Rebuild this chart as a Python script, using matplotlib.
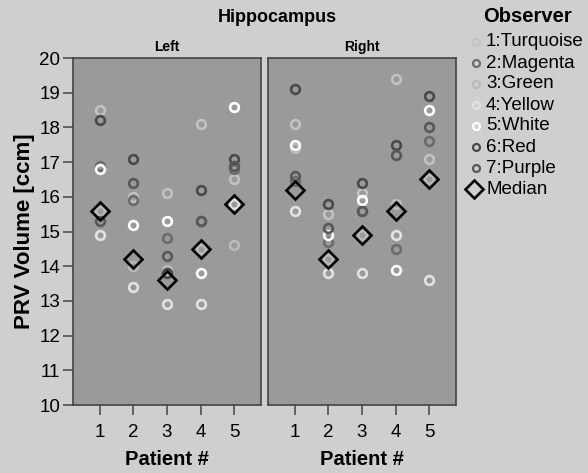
import matplotlib
matplotlib.use("Agg")
import matplotlib.pyplot as plt
from matplotlib.lines import Line2D

plt.rcParams['font.family'] = ['Liberation Sans', 'DejaVu Sans']

patients = [1, 2, 3, 4, 5]
observers = ["1:Turquoise", "2:Magenta", "3:Green", "4:Yellow", "5:White", "6:Red", "7:Purple"]
obs_colors = ["#c2c2c2", "#6c6c6c", "#bababa", "#e2e2e2", "#ffffff", "#4a4a4a", "#585858"]

left_values = [
    [18.5, 16.0, 16.1, 18.1, 16.5],
    [16.9, 15.9, 14.8, 15.3, 16.8],
    [15.6, 14.0, 13.9, 14.5, 14.6],
    [14.9, 13.4, 12.9, 12.9, 15.8],
    [16.8, 15.2, 15.3, 13.8, 18.6],
    [18.2, 17.1, 13.8, 16.2, 17.1],
    [15.3, 16.4, 14.3, 15.3, 16.9],
]
right_values = [
    [18.1, 15.5, 16.1, 19.4, 17.1],
    [16.45, 14.7, 15.6, 14.5, 17.6],
    [17.4, 14.2, 14.9, 15.8, 16.5],
    [15.6, 13.8, 13.8, 14.9, 13.6],
    [17.5, 14.9, 15.9, 13.9, 18.5],
    [19.1, 15.8, 16.4, 17.5, 18.9],
    [16.6, 15.1, 15.6, 17.2, 18.0],
]
left_median = [15.6, 14.2, 13.6, 14.5, 15.8]
right_median = [16.2, 14.2, 14.9, 15.6, 16.5]

facets = ["Left", "Right"]
yticks = list(range(10, 21))

W, H = 588, 473
fig = plt.figure(figsize=(W / 100, H / 100), dpi=100, facecolor="#cfcfcf")

panel_x = [(73, 261), (268, 456)]
y_top, y_bot = 58, 405
axes = []
for (x0, x1) in panel_x:
    ax = fig.add_axes([x0 / W, 1 - y_bot / H, (x1 - x0) / W, (y_bot - y_top) / H])
    axes.append(ax)

spine_col = "#444444"
for i, (ax, vals, med, name) in enumerate(zip(axes, [left_values, right_values],
                                               [left_median, right_median], facets)):
    ax.set_facecolor("#9a9a9a")
    for obs, col, v in zip(observers, obs_colors, vals):
        ax.plot(patients, v, linestyle="none", marker="o", markersize=6.3,
                markerfacecolor="none", markeredgecolor=col, markeredgewidth=1.9)
    ax.plot(patients, med, linestyle="none", marker="D", markersize=9.5,
            markerfacecolor="none", markeredgecolor="black", markeredgewidth=1.9)
    ax.set_xlim(0.2, 5.8)
    ax.set_ylim(10, 20)
    ax.set_xticks(patients)
    ax.set_xticklabels([str(p) for p in patients], fontsize=13.5)
    ax.set_yticks(yticks)
    if i == 0:
        ax.set_yticklabels([str(t) for t in yticks], fontsize=13.5)
        ax.tick_params(axis="y", direction="out", length=7, width=1.1, color=spine_col, pad=2)
    else:
        ax.tick_params(axis="y", left=False, labelleft=False)
    ax.tick_params(axis="x", direction="out", length=7.5, width=1.1, color=spine_col, pad=6)
    for s in ax.spines.values():
        s.set_color(spine_col)
        s.set_linewidth(1.2)
    ax.set_title(name, fontsize=10, fontweight="bold", pad=5)
    ax.set_xlabel("Patient #", fontsize=14.5, fontweight="bold", labelpad=7)

axes[0].set_ylabel("PRV Volume [ccm]", fontsize=16, fontweight="bold", labelpad=3)

fig.text(277 / W, 1 - 17 / H, "Hippocampus", ha="center", va="center",
         fontsize=13, fontweight="bold")

# Legend (manually laid out)
fig.text(527 / W, 1 - 17 / H, "Observer", ha="center", va="center",
         fontsize=14.5, fontweight="bold")
labels = observers + ["Median"]
for k, lab in enumerate(labels):
    yc = 1 - (42 + 21 * k) / H
    if k < len(observers):
        fig.add_artist(Line2D([476 / W], [yc], transform=fig.transFigure, linestyle="none",
                              marker="o", markersize=5, markerfacecolor="none",
                              markeredgecolor=obs_colors[k], markeredgewidth=1.6))
    else:
        fig.add_artist(Line2D([474 / W], [yc], transform=fig.transFigure, linestyle="none",
                              marker="D", markersize=9, markerfacecolor="none",
                              markeredgecolor="black", markeredgewidth=1.9))
    fig.text(486 / W, yc, lab, ha="left", va="center", fontsize=13.5)

fig.savefig("out.png", dpi=100, facecolor=fig.get_facecolor())
